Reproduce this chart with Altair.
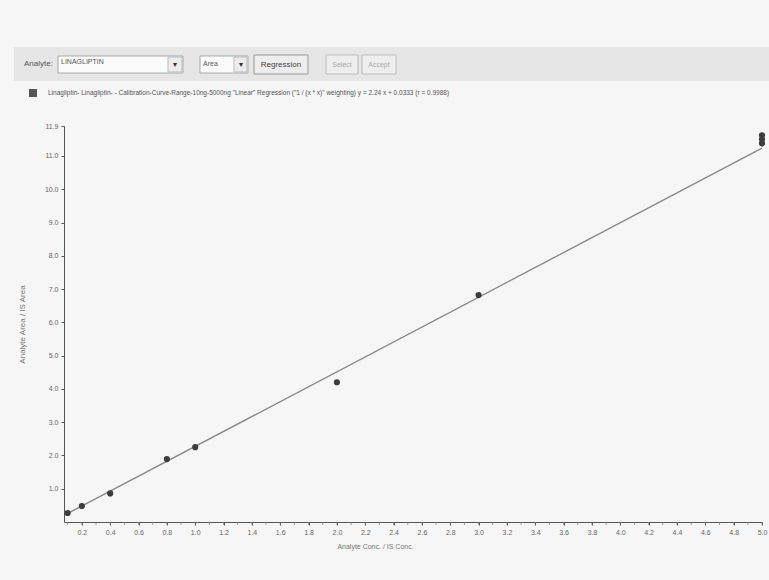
import altair as alt
import pandas as pd

# Calibration standards: analyte conc / IS conc vs analyte area / IS area
conc = [0.1, 0.2, 0.4, 0.8, 1.0, 2.0, 3.0, 5.0, 5.0, 5.0]
ratio = [0.27, 0.48, 0.86, 1.89, 2.25, 4.20, 6.82, 11.38, 11.50, 11.62]

# Weighted linear regression reported by the software
slope = 2.24
intercept = 0.0333
r_value = 0.9988
fit_range = [0.1, 5.0]

x_ticks = [round(0.2 * i, 1) for i in range(1, 26)]
x_minor = [round(0.1 * i + 0.1, 1) for i in range(0, 50)]
y_ticks = [1.0, 2.0, 3.0, 4.0, 5.0, 6.0, 7.0, 8.0, 9.0, 10.0, 11.0, 11.9]

points = pd.DataFrame({"conc": conc, "ratio": ratio})
fit = pd.DataFrame({"conc": fit_range,
                    "ratio": [slope * v + intercept for v in fit_range]})
minor = pd.DataFrame({"conc": x_minor})
single = pd.DataFrame({"k": [0]})

FONT = "Liberation Sans"
W, H = 698, 396

xscale = alt.Scale(domain=[0.074, 5.0], nice=False, zero=False)
yscale = alt.Scale(domain=[0.0, 11.9], nice=False, zero=True)

x_axis = alt.Axis(values=x_ticks, format=".1f", grid=False, labelFontSize=7,
                  labelColor="#666", labelFont=FONT, tickSize=3, tickColor="#555",
                  domainColor="#555", title="Analyte Conc. / IS Conc.",
                  titleFont=FONT, titleFontSize=7, titleFontWeight="normal",
                  titleColor="#777", titleX=311, titleY=20, labelPadding=3,
                  labelOverlap=False, labelFlush=False)
y_axis = alt.Axis(values=y_ticks, format=".1f", grid=False, labelFontSize=7,
                  labelColor="#666", labelFont=FONT, tickSize=3, tickColor="#555",
                  domainColor="#555", title="Analyte Area / IS Area",
                  titleFont=FONT, titleFontSize=8, titleFontWeight="normal",
                  titleColor="#777", titleX=-38, titleY=198, labelPadding=3,
                  labelOverlap=False, labelFlush=False)

line = alt.Chart(fit).mark_line(color="#8a8a8a", strokeWidth=1.4).encode(
    x=alt.X("conc:Q", scale=xscale, axis=x_axis),
    y=alt.Y("ratio:Q", scale=yscale, axis=y_axis),
)

dots = alt.Chart(points).mark_point(filled=True, color="#3d3d3d", size=38,
                                    opacity=1, shape="circle").encode(
    x=alt.X("conc:Q", scale=xscale, axis=x_axis),
    y=alt.Y("ratio:Q", scale=yscale, axis=y_axis),
)

minor_ticks = alt.Chart(minor).mark_tick(color="#777", thickness=1, size=3,
                                        orient="vertical").encode(
    x=alt.X("conc:Q", scale=xscale, axis=x_axis),
    y=alt.value(H + 1.5),
)

# Toolbar strip above the plot
def rect(x0, x1, y0, y1, fill, stroke=None):
    kw = dict(fill=fill)
    if stroke:
        kw.update(stroke=stroke, strokeWidth=1)
    return alt.Chart(single).mark_rect(**kw).encode(
        x=alt.value(x0), x2=alt.value(x1), y=alt.value(y0), y2=alt.value(y1))

def label(x, y, s, size=8, color="#444", align="left"):
    return alt.Chart(single).mark_text(align=align, baseline="middle", font=FONT,
                                       fontSize=size, color=color).encode(
        x=alt.value(x), y=alt.value(y), text=alt.value(s))

ox, oy = -64, -126  # page origin relative to plot
toolbar = [
    rect(14 + ox, 769 + ox, 47 + oy, 81 + oy, "#e6e6e6"),
    label(24 + ox, 64 + oy, "Analyte:", 8, "#555"),
    rect(58 + ox, 183 + ox, 56 + oy, 73 + oy, "#fbfbfb", "#aaa"),
    label(61 + ox, 62 + oy, "LINAGLIPTIN", 7, "#555"),
    rect(168 + ox, 182 + ox, 57 + oy, 72 + oy, "#ececec", "#bbb"),
    label(175 + ox, 65 + oy, "▾", 8, "#333", "center"),
    rect(200 + ox, 248 + ox, 56 + oy, 73 + oy, "#fbfbfb", "#aaa"),
    label(203 + ox, 64 + oy, "Area", 7, "#555"),
    rect(234 + ox, 247 + ox, 57 + oy, 72 + oy, "#ececec", "#bbb"),
    label(240.5 + ox, 65 + oy, "▾", 8, "#333", "center"),
    rect(254 + ox, 308 + ox, 55 + oy, 74 + oy, "#eeeeee", "#999"),
    label(281 + ox, 65 + oy, "Regression", 8, "#444", "center"),
    rect(326 + ox, 358 + ox, 55 + oy, 74 + oy, "#eeeeee", "#bbb"),
    label(342 + ox, 65 + oy, "Select", 7, "#aaa", "center"),
    rect(362 + ox, 396 + ox, 55 + oy, 74 + oy, "#eeeeee", "#bbb"),
    label(379 + ox, 65 + oy, "Accept", 7, "#aaa", "center"),
    rect(29 + ox, 37 + ox, 89 + oy, 97 + oy, "#555"),
    label(48 + ox, 93 + oy,
          'Linagliptin- Linagliptin- - Calibration-Curve-Range-10ng-5000ng "Linear" '
          'Regression ("1 / (x * x)" weighting) y = '
          f"{slope:.2f} x + {intercept:.4f} (r = {r_value:.4f})", 6.5, "#555"),
]

chart = alt.layer(*toolbar, minor_ticks, line, dots).properties(
    width=W, height=H,
    background="#f6f6f6",
    padding={"left": 64, "top": 126, "right": 7, "bottom": 58},
    autosize=alt.AutoSizeParams(type="none"),
).configure_view(stroke=None).configure_axis(labelOverlap=False, labelFlush=False)

chart.save("out.html", embed_options={"renderer": "svg", "actions": False})
